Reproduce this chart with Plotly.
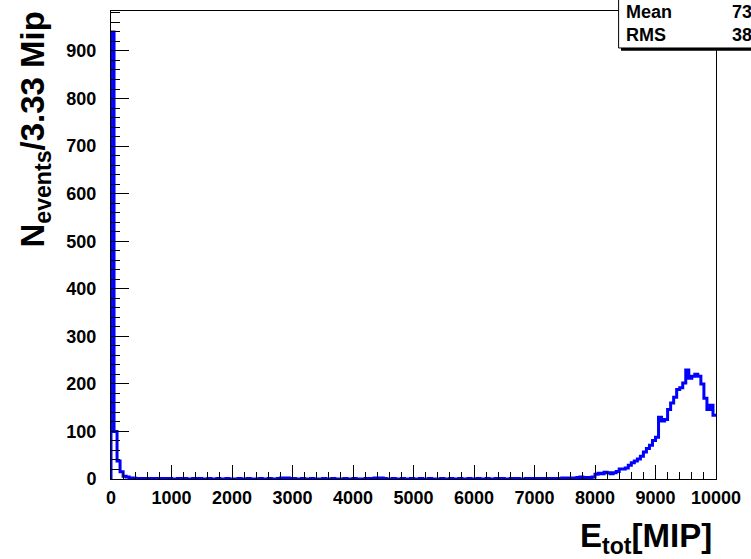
import numpy as np
import plotly.graph_objects as go

# Histogram binning: 200 bins of 50 MIP over 0..10000
x_min, x_max, bin_width = 0, 10000, 50

# Pedestal region (0..400 MIP)
low_counts = [940, 100, 38, 15, 6, 4, 2, 2]

# Between pedestal and shower peak (400..8000 MIP)
mid_counts = [
    1, 1, 1, 0, 1, 1, 0, 1, 0, 1, 0, 1, 0, 0, 1, 0, 1, 0, 0, 1,
    0, 1, 0, 0, 1, 0, 0, 1, 0, 0, 1, 0, 0, 0, 1, 0, 0, 1, 0, 0,
    0, 1, 0, 0, 1, 0, 0, 1, 2, 2, 2, 1, 1, 0, 0, 1, 0, 0, 1, 0,
    0, 0, 1, 0, 0, 1, 0, 0, 0, 1, 0, 0, 1, 0, 0, 0, 1, 1, 1, 2,
    2, 2, 1, 0, 0, 1, 0, 0, 1, 0, 0, 1, 0, 0, 1, 0, 0, 1, 0, 0,
    0, 1, 0, 0, 1, 0, 0, 1, 0, 0, 1, 0, 0, 1, 0, 0, 1, 0, 0, 1,
    0, 1, 0, 0, 1, 0, 1, 0, 0, 1, 0, 1, 0, 1, 1, 0, 1, 1, 1, 1,
    1, 2, 1, 2, 2, 2, 3, 4, 3, 2, 3, 4,
]

# Shower peak region (8000..10000 MIP)
peak_counts = [
    10, 12, 11, 14, 13, 11, 13, 16, 21, 21,
    23, 29, 34, 38, 42, 48, 57, 64, 71, 81,
    88, 130, 122, 125, 146, 160, 172, 188, 192, 202,
    229, 212, 216, 220, 216, 200, 170, 146, 155, 134,
]

counts = low_counts + mid_counts + peak_counts
edges = x_min + bin_width * np.arange(len(counts) + 1)
centers = 0.5 * (edges[:-1] + edges[1:])

# Statistics as shown in the stats box
c = np.array(counts, dtype=float)
mean = float((c * centers).sum() / c.sum())
rms = float(np.sqrt((c * (centers - mean) ** 2).sum() / c.sum()))

y_max = 984

# step outline, starting from the baseline
xs = [edges[0]] + list(edges[:-1]) + [edges[-1]]
ys = [0] + counts + [counts[-1]]

fig = go.Figure()
fig.add_trace(go.Scatter(
    x=xs, y=ys, mode="lines", line_shape="hv",
    line=dict(color="#0000ff", width=3), hoverinfo="skip", showlegend=False,
))

font_family = "Liberation Sans, Arial, Helvetica, sans-serif"
tick_font = dict(family=font_family, size=18, color="black", weight="bold")

fig.update_layout(
    width=751, height=559,
    margin=dict(l=111, r=30, t=10, b=80),
    paper_bgcolor="white", plot_bgcolor="white",
    xaxis=dict(
        range=[x_min, x_max], showline=True, linecolor="black", linewidth=1,
        mirror=True, ticks="inside", ticklen=14, tickwidth=1, tickcolor="black",
        tick0=0, dtick=1000, tickformat="d", showgrid=False, zeroline=False,
        tickfont=tick_font,
        minor=dict(dtick=200, ticklen=7, ticks="inside", tickcolor="black", showgrid=False),
        ticklabelstandoff=2,
    ),
    yaxis=dict(
        range=[0, y_max], showline=True, linecolor="black", linewidth=1,
        mirror=True, ticks="inside", ticklen=18, tickwidth=1, tickcolor="black",
        tick0=0, dtick=100, tickformat="d", showgrid=False, zeroline=False,
        tickfont=tick_font,
        minor=dict(dtick=20, ticklen=9, ticks="inside", tickcolor="black", showgrid=False),
        ticklabelstandoff=10,
    ),
)

title_font = dict(family=font_family, size=33, color="black", weight="bold")
fig.add_annotation(
    text="N<sub>events</sub>/3.33 Mip", textangle=-90,
    xref="paper", yref="paper", x=-0.125, y=1.004,
    xanchor="center", yanchor="top", showarrow=False, font=title_font,
)
fig.add_annotation(
    text="E<sub>tot</sub>[MIP]",
    xref="paper", yref="paper", x=0.997, y=-0.076,
    xanchor="right", yanchor="top", showarrow=False, font=title_font,
)

# Stats box (extends past the right/top edge of the canvas)
fig.add_shape(type="rect", xref="paper", yref="paper",
              x0=0.843, x1=1.2, y0=0.915, y1=1.2,
              fillcolor="black", line=dict(width=0), layer="above")
fig.add_shape(type="rect", xref="paper", yref="paper",
              x0=0.839, x1=1.2, y0=0.921, y1=1.2,
              fillcolor="white", line=dict(color="black", width=1), layer="above")

stat_font = dict(family=font_family, size=18, color="black", weight="bold")
for label, value, ypos in [("Mean", mean, 0.998), ("RMS", rms, 0.949)]:
    fig.add_annotation(text=label, xref="paper", yref="paper", x=0.8475, y=ypos,
                       xanchor="left", yanchor="middle", showarrow=False, font=stat_font)
    fig.add_annotation(text=f"{value:.4g}", xref="paper", yref="paper", x=1.023, y=ypos,
                       xanchor="left", yanchor="middle", showarrow=False, font=stat_font)

fig.write_html("out.html")
